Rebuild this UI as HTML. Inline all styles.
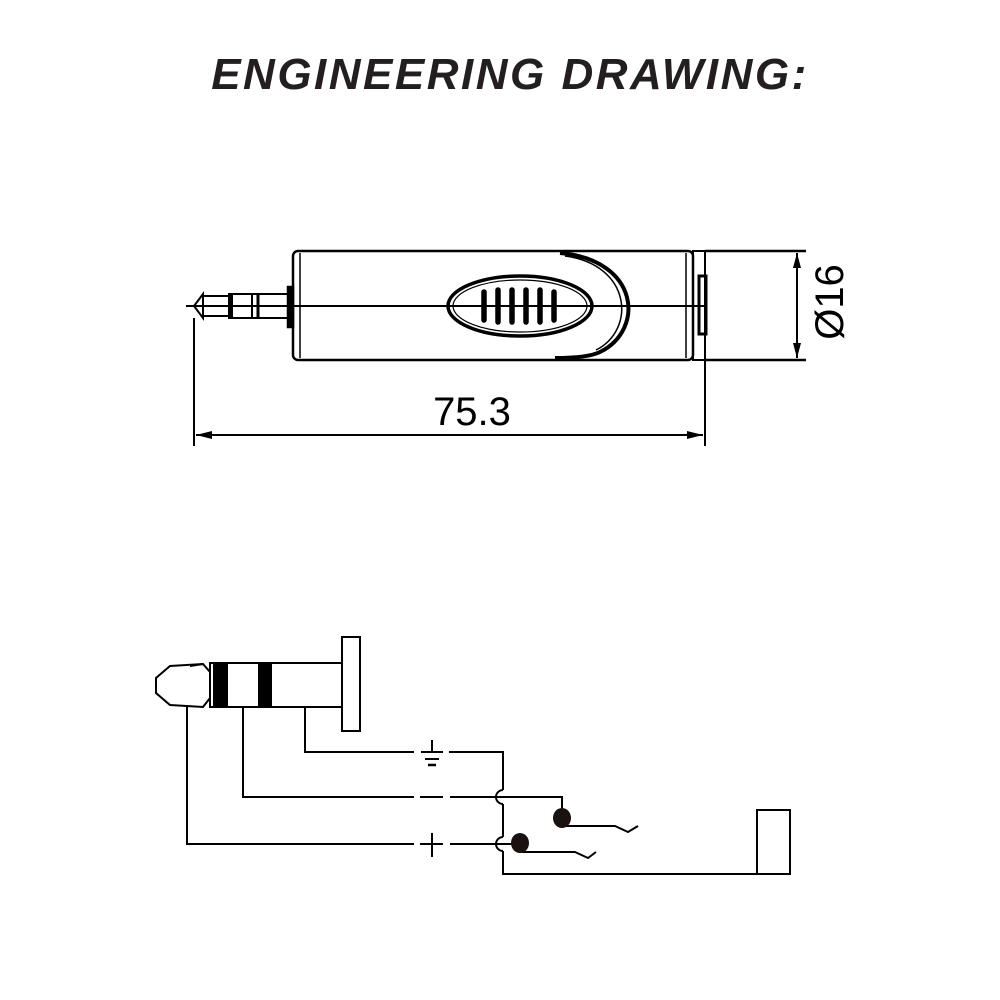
<!DOCTYPE html>
<html><head><meta charset="utf-8"><style>
html,body{margin:0;padding:0;background:#fff;}
svg{display:block}
</style></head><body>
<svg width="1000" height="1000" viewBox="0 0 1000 1000" xmlns="http://www.w3.org/2000/svg">
<text x="510" y="89" text-anchor="middle" font-family="Liberation Sans, sans-serif" font-weight="bold" font-style="italic" font-size="44" fill="#231f20" letter-spacing="2.5">ENGINEERING DRAWING:</text>
<g stroke="#000" stroke-width="2.5" fill="none">
<rect x="293" y="251" width="400" height="109" rx="5"/>
<line x1="300" y1="253" x2="300" y2="358" stroke-width="1.5"/>
<line x1="686" y1="253" x2="686" y2="358" stroke-width="1.5"/>
<path d="M560 253 C640 260 645 330 600 352 C590 357 570 358 555 358" stroke-width="4"/>
<path d="M565 256 C632 265 636 330 596 350" stroke-width="1.5"/>
<ellipse cx="520" cy="306" rx="72" ry="30" stroke-width="3.5"/>
<ellipse cx="520" cy="306" rx="67" ry="26" stroke-width="1.2"/>
<line x1="186" y1="306" x2="705" y2="306" stroke-width="2"/>
<rect x="693" y="251" width="12" height="109" stroke-width="2"/>
<rect x="699" y="276" width="7" height="58" stroke-width="3"/>
<path d="M194 306 L203 294 L203 318 Z" stroke-width="2"/>
<rect x="203" y="296" width="26" height="20" stroke-width="2"/>
<rect x="229" y="294" width="59" height="24" stroke-width="2"/>
<line x1="231" y1="294" x2="231" y2="318" stroke-width="4"/>
<line x1="252" y1="294" x2="252" y2="318" stroke-width="2"/>
<line x1="258" y1="294" x2="258" y2="318" stroke-width="3"/>
<rect x="288" y="287" width="5" height="40" fill="#000"/>
<line x1="705" y1="251" x2="806" y2="251" stroke-width="2.5"/>
<line x1="705" y1="360" x2="806" y2="360" stroke-width="2.5"/>
<line x1="797" y1="253" x2="797" y2="358" stroke-width="2"/>
<line x1="194" y1="318" x2="194" y2="446" stroke-width="2"/>
<line x1="705" y1="340" x2="705" y2="446" stroke-width="2"/>
<line x1="196" y1="435" x2="703" y2="435" stroke-width="2"/>
</g>
<g stroke="#000" stroke-width="5.5" stroke-linecap="round">
<line x1="484" y1="292" x2="484" y2="320"/>
<line x1="498" y1="290" x2="498" y2="322"/>
<line x1="512" y1="290" x2="512" y2="322"/>
<line x1="526" y1="290" x2="526" y2="322"/>
<line x1="540" y1="290" x2="540" y2="322"/>
<line x1="554" y1="292" x2="554" y2="320"/>
</g>
<path d="M797 253 L793 268 L801 268 Z M797 358 L793 343 L801 343 Z M196 435 L212 431 L212 439 Z M703 435 L687 431 L687 439 Z" fill="#000"/>
<text x="472" y="425" text-anchor="middle" font-family="Liberation Sans, sans-serif" font-size="40" fill="#000">75.3</text>
<text transform="translate(843,302) rotate(-90)" text-anchor="middle" font-family="Liberation Sans, sans-serif" font-size="40" fill="#000">Ø16</text>

<g stroke="#000" stroke-width="2" fill="none">
<path d="M170 666 L156 678 L156 693 L170 705 L203 707 L210 698 L210 672 L203 664 Z"/>
<line x1="190" y1="666" x2="203" y2="664"/>
<rect x="210" y="663" width="132" height="44"/>
<rect x="342" y="637" width="18" height="94"/>
<polyline points="187,705 187,844 414,844"/>
<polyline points="243,707 243,797 414,797"/>
<polyline points="305,707 305,752 414,752"/>
<line x1="420" y1="797" x2="443" y2="797"/>
<line x1="420" y1="844" x2="443" y2="844"/>
<line x1="432" y1="833" x2="432" y2="857"/>
<line x1="432" y1="740" x2="432" y2="752"/>
<line x1="421" y1="752" x2="443" y2="752"/>
<line x1="425" y1="759" x2="439" y2="759"/>
<line x1="428" y1="765" x2="436" y2="765" stroke-width="2.5"/>
<polyline points="449,752 503,752 503,790"/>
<path d="M503 790 A7 7 0 0 0 503 804"/>
<line x1="503" y1="804" x2="503" y2="837"/>
<path d="M503 837 A7 7 0 0 0 503 851"/>
<polyline points="503,851 503,874 790,874 790,810 757,810 757,874"/>
<polyline points="450,797 562,797 562,818"/>
<line x1="450" y1="844" x2="520" y2="844"/>
<polyline points="562,826 615,826 628,832 638,826"/>
<polyline points="520,852 575,852 588,858 596,852"/>
</g>
<ellipse cx="562" cy="818" rx="9" ry="10" fill="#1a1210"/>
<ellipse cx="520" cy="843" rx="9" ry="10" fill="#1a1210"/>
<path d="M213 664 L228 664 L228 706 L213 706 Z M258 664 L272 664 L272 706 L258 706 Z" fill="#000"/>
</svg>
</body></html>
